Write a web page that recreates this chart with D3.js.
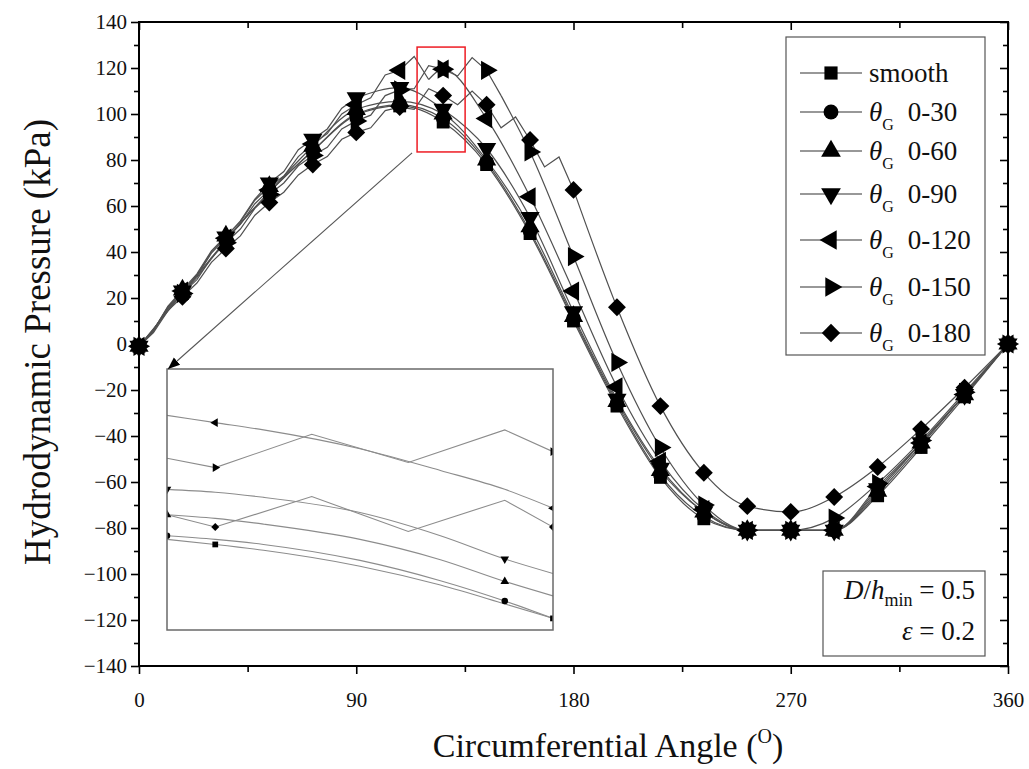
<!DOCTYPE html>
<html><head><meta charset="utf-8">
<script src="https://cdn.jsdelivr.net/npm/d3@7/dist/d3.min.js"></script>
<style>body{margin:0;background:#fff}</style>
</head><body><svg id="c" width="1029" height="769"></svg>
<script>
// ---------- DATA ----------
const markerAngles = [0,18,36,54,72,90,108,126,144,162,180,198,216,234,252,270,288,306,324,342,360];
const fineAngles = [0,6,12,18,24,30,36,42,48,54,60,66,72,78,84,90,96,102,108,114,120,126,132,138,144,150,156,162,168,174,180];
const yTickValues = [-140,-120,-100,-80,-60,-40,-20,0,20,40,60,80,100,120,140];
const yMinorValues = [-130,-110,-90,-70,-50,-30,-10,10,30,50,70,90,110,130];
const xTickValues = [0,90,180,270,360];
const xMinorValues = [45,135,225,315];

// marker values (kPa) at markerAngles
const smoothVals = [-1,22,45,66,84,99.5,103.5,96.5,78,48,10,-27,-58,-76,-81,-81,-81,-66,-45,-23,0];
const g30Vals    = [-1,22,45,66,84,100,104,98,79,49,11,-26,-57,-75,-81,-81,-81,-65,-44,-22,0];
const g60Vals    = [-1,23.5,47,68.5,86,102,105.5,100,80,51,12,-25,-55,-73,-81,-81,-81,-64,-43,-22,0];
const g90Vals    = [-1,23,46.5,70,89,107,111.5,102,85,55,14,-24,-54,-73,-81,-81,-81,-63,-43,-22,0];
const g120Vals   = [-1,23,46,67,87,104,119,119.5,98,64,23,-18.6,-51,-72,-81,-81,-81,-62,-43,-22,0];
const g150Vals   = [-1,22,44,65,82,97,110.5,119.5,119,83.5,38,-8,-45,-70,-81,-81,-75.7,-60.6,-42,-21,0];
const g180Vals   = [-1,20.5,41.5,61.5,78,92,103,108,104,88.7,67,16,-27,-56,-70.5,-73,-66.5,-53.5,-37,-19,0];

// groove-region values at fineAngles (0 .. groove end)
const g30Fine  = [-1,6.5,15,22,29,37];
const g60Fine  = [-1,6,16.5,23.5,30.5,40.5,47,53,62.5,68.5,73];
const g90Fine  = [-1,6,16,23,30,40,46.5,53.5,63,70,75,84.5,89,93.5,102.5,107];
const g120Fine = [-1,6,16,23,29.5,39.5,46,52,61,67,73,81.5,87,91.5,100,104,107,117,119,125,115];
const g150Fine = [-1,5.5,15.5,22,28,37.5,44,50,59,65,70,77.5,82,85.5,93.5,97,99.5,108,110.5,111,121,119.5,116.5,124.5,119,108];
const g180Fine = [-1,5,14.5,20.5,26.5,35.5,41.5,47,56,61.5,66,73.5,78,81.5,89,92,94,101.5,103,102,111,108,104,110,104,94,98.7,88.7,77,81.3,67];

const seriesNames = ["smooth","0-30","0-60","0-90","0-120","0-150","0-180"];
const grooveEnds  = [0,30,60,90,120,150,180];

// inset (zoom of the red box region)
const insetSmoothX = [123,126,129,135,140,144,147];
const insetZigX    = [123,126,132,138,144,147];
const insetSmooth = [100.5,99.8,99.0,96.8,94.2,91.6,89.6];
const inset30     = [101.0,100.5,99.8,97.6,94.8,92.0,89.6];
const inset60     = [103.9,103.4,102.6,100.5,97.7,94.7,92.7];
const inset90     = [107.4,107.0,106.3,104.2,101.0,97.8,95.8];
const inset120    = [117.6,116.6,115.6,113.0,110.0,107.4,104.8];
const inset150    = [111.7,110.4,115.0,111.1,115.6,112.6];
const inset180    = [103.9,102.2,106.4,101.6,105.9,102.2];
const insetMarkA  = [126,147]; // smooth, 0-120, 0-150, 0-180
const insetMarkB  = [123,144]; // 0-30, 0-60, 0-90

// ---------- DRAW ----------
const FONT = "'Liberation Serif','Times New Roman',serif";
const svg = d3.select('#c');
const x = d3.scaleLinear().domain([0,360]).range([139,1008]);
const y = d3.scaleLinear().domain([-140,140]).range([666,22]);

const LINE = '#505050';
const markerDefs = {
  square:  {type:d3.symbolSquare,   rot:0,   size:165},
  circle:  {type:d3.symbolCircle,   rot:0,   size:165},
  up:      {type:d3.symbolTriangle, rot:0,   size:160},
  down:    {type:d3.symbolTriangle, rot:180, size:160},
  left:    {type:d3.symbolTriangle, rot:-90, size:160},
  right:   {type:d3.symbolTriangle, rot:90,  size:160},
  diamond: {type:d3.symbolSquare,   rot:45,  size:160}
};
const markerKinds = ['square','circle','up','down','left','right','diamond'];
const valsList = [smoothVals,g30Vals,g60Vals,g90Vals,g120Vals,g150Vals,g180Vals];
const fineList = [null,g30Fine,g60Fine,g90Fine,g120Fine,g150Fine,g180Fine];

function drawMarker(g, kind, cx, cy, scale){
  const m = markerDefs[kind];
  g.append('path')
    .attr('d', d3.symbol().type(m.type).size(m.size*(scale||1))())
    .attr('transform', `translate(${cx},${cy}) rotate(${m.rot})`)
    .attr('fill','#000');
}

// lines
const gLines = svg.append('g');
const lineLin = d3.line().x(d=>x(d[0])).y(d=>y(d[1]));
const lineSm  = d3.line().x(d=>x(d[0])).y(d=>y(d[1])).curve(d3.curveMonotoneX);
valsList.forEach((vals,i)=>{
  const ge = grooveEnds[i];
  const fine = fineList[i];
  let rest;
  if (fine){
    const finePts = fine.map((v,k)=>[fineAngles[k],v]);
    gLines.append('path').attr('d', lineLin(finePts))
      .attr('fill','none').attr('stroke',LINE).attr('stroke-width',1.2);
    rest = [finePts[finePts.length-1]].concat(markerAngles.map((a,k)=>[a,vals[k]]).filter(p=>p[0]>ge));
  } else {
    rest = markerAngles.map((a,k)=>[a,vals[k]]);
  }
  gLines.append('path').attr('d', lineSm(rest))
    .attr('fill','none').attr('stroke',LINE).attr('stroke-width',1.2);
});
// markers
const gMarks = svg.append('g');
valsList.forEach((vals,i)=>{
  vals.forEach((v,k)=> drawMarker(gMarks, markerKinds[i], x(markerAngles[k]), y(v)));
});

// frame & axes
const axG = svg.append('g').attr('font-family',FONT);
function styleAxis(g){
  g.select('.domain').remove();
  g.selectAll('line').attr('stroke','#000').attr('stroke-width',1.6);
  g.selectAll('text').attr('font-family',FONT).attr('font-size',21).attr('fill','#111');
}
axG.append('g').attr('transform',`translate(${x(0)},0)`)
  .call(d3.axisLeft(y).tickValues(yTickValues).tickSize(8).tickPadding(4).tickFormat(d3.format('d'))).call(styleAxis);
axG.append('g').attr('transform',`translate(${x(0)},0)`)
  .call(d3.axisLeft(y).tickValues(yMinorValues).tickSize(5).tickFormat('')).call(styleAxis);
axG.append('g').attr('transform',`translate(${x(360)},0)`)
  .call(d3.axisLeft(y).tickValues(yTickValues).tickSize(8).tickFormat('')).call(styleAxis);
axG.append('g').attr('transform',`translate(${x(360)},0)`)
  .call(d3.axisLeft(y).tickValues(yMinorValues).tickSize(5).tickFormat('')).call(styleAxis);
axG.append('g').attr('transform',`translate(0,${y(-140)})`)
  .call(d3.axisBottom(x).tickValues(xTickValues).tickSize(8).tickPadding(18).tickFormat(d3.format('d'))).call(styleAxis);
axG.append('g').attr('transform',`translate(0,${y(-140)})`)
  .call(d3.axisBottom(x).tickValues(xMinorValues).tickSize(6).tickFormat('')).call(styleAxis);
axG.append('g').attr('transform',`translate(0,${y(140)})`)
  .call(d3.axisBottom(x).tickValues(xTickValues).tickSize(8).tickFormat('')).call(styleAxis);
axG.append('g').attr('transform',`translate(0,${y(140)})`)
  .call(d3.axisBottom(x).tickValues(xMinorValues).tickSize(6).tickFormat('')).call(styleAxis);
svg.append('rect').attr('x',x(0)).attr('y',y(140)).attr('width',x(360)-x(0)).attr('height',y(-140)-y(140))
  .attr('fill','none').attr('stroke','#000').attr('stroke-width',2);

// axis titles
const xt = svg.append('text').attr('x',608).attr('y',757).attr('text-anchor','middle')
  .attr('font-family',FONT).attr('font-size',34).attr('fill','#111');
xt.append('tspan').text('Circumferential Angle (');
xt.append('tspan').attr('dy',-14).attr('font-size',20).text('O');
xt.append('tspan').attr('dy',14).text(')');
svg.append('text').attr('transform','translate(50,342) rotate(-90)').attr('text-anchor','middle')
  .attr('font-family',FONT).attr('font-size',37).attr('fill','#111').text('Hydrodynamic Pressure (kPa)');

// red box
const red = {a0:115.2,a1:135.1,p0:83.5,p1:129.1};
svg.append('rect').attr('x',x(red.a0)).attr('y',y(red.p1)).attr('width',x(red.a1)-x(red.a0)).attr('height',y(red.p0)-y(red.p1))
  .attr('fill','none').attr('stroke','#ee1c24').attr('stroke-width',1.5);

// inset
const inset = {x0:167,x1:553,y0:369,y1:630};
const ix = d3.scaleLinear().domain([123,147]).range([inset.x0,inset.x1]);
const iy = d3.scaleLinear().domain([88,124]).range([inset.y1,inset.y0]);
svg.append('defs').append('clipPath').attr('id','ic').append('rect')
  .attr('x',inset.x0).attr('y',inset.y0).attr('width',inset.x1-inset.x0).attr('height',inset.y1-inset.y0);
svg.append('rect').attr('x',inset.x0).attr('y',inset.y0).attr('width',inset.x1-inset.x0).attr('height',inset.y1-inset.y0)
  .attr('fill','#fff');
const gi = svg.append('g').attr('clip-path','url(#ic)');
const iline = d3.line().x(d=>ix(d[0])).y(d=>iy(d[1]));
const insetSeries = [
  {xs:insetSmoothX, v:insetSmooth, kind:'square',  marks:insetMarkA},
  {xs:insetSmoothX, v:inset30,     kind:'circle',  marks:insetMarkB},
  {xs:insetSmoothX, v:inset60,     kind:'up',      marks:insetMarkB},
  {xs:insetSmoothX, v:inset90,     kind:'down',    marks:insetMarkB},
  {xs:insetSmoothX, v:inset120,    kind:'left',    marks:insetMarkA},
  {xs:insetZigX,    v:inset150,    kind:'right',   marks:insetMarkA},
  {xs:insetZigX,    v:inset180,    kind:'diamond', marks:insetMarkA}
];
insetSeries.forEach(s=>{
  const pts = s.xs.map((a,k)=>[a,s.v[k]]);
  gi.append('path').attr('d', s.xs===insetSmoothX ? iline.curve(d3.curveMonotoneX)(pts) : iline.curve(d3.curveLinear)(pts))
    .attr('fill','none').attr('stroke','#8c8c8c').attr('stroke-width',1.1);
});
insetSeries.forEach(s=>{
  const pts = s.xs.map((a,k)=>[a,s.v[k]]);
  s.marks.forEach(a=>{
    const p = pts.find(q=>q[0]===a);
    if (p) drawMarker(gi, s.kind, ix(p[0]), iy(p[1]), 0.2);
  });
});
svg.append('rect').attr('x',inset.x0).attr('y',inset.y0).attr('width',inset.x1-inset.x0).attr('height',inset.y1-inset.y0)
  .attr('fill','none').attr('stroke','#6a6a6a').attr('stroke-width',1.5);

// connector arrow
svg.select('defs').append('marker').attr('id','arr').attr('viewBox','0 0 10 10').attr('refX',10).attr('refY',5)
  .attr('markerWidth',12).attr('markerHeight',12).attr('markerUnits','userSpaceOnUse').attr('orient','auto')
  .append('path').attr('d','M0,1 L10,5 L0,9 Z').attr('fill','#000');
svg.append('line').attr('x1',x(red.a0)-5).attr('y1',y(red.p0)+1).attr('x2',inset.x0+1).attr('y2',inset.y0)
  .attr('stroke','#555').attr('stroke-width',1.1).attr('marker-end','url(#arr)');

// legend
const leg = {x0:786,y0:37,x1:985,y1:355};
svg.append('rect').attr('x',leg.x0).attr('y',leg.y0).attr('width',leg.x1-leg.x0).attr('height',leg.y1-leg.y0)
  .attr('fill','#fff').attr('stroke','#555').attr('stroke-width',1.2);
const legRows = [73,112,151,194,240,287,333];
seriesNames.forEach((n,i)=>{
  const cy = legRows[i];
  svg.append('line').attr('x1',800).attr('x2',862).attr('y1',cy).attr('y2',cy).attr('stroke','#333').attr('stroke-width',1.2);
  drawMarker(svg, markerKinds[i], 831, cy, 1.05);
  const t = svg.append('text').attr('x',869).attr('y',cy+9).attr('font-family',FONT).attr('font-size',27).attr('fill','#111');
  if (i===0) t.text(n);
  else {
    t.append('tspan').attr('font-style','italic').text('θ');
    t.append('tspan').attr('dy',9).attr('font-size',16).text('G');
    t.append('tspan').attr('dy',-9).attr('dx',14).text(n);
  }
});

// annotation
svg.append('rect').attr('x',823).attr('y',571).attr('width',162).attr('height',85)
  .attr('fill','#fff').attr('stroke','#555').attr('stroke-width',1.2);
const a1 = svg.append('text').attr('x',975).attr('y',599).attr('text-anchor','end').attr('font-family',FONT).attr('font-size',27).attr('fill','#111');
a1.append('tspan').attr('font-style','italic').text('D');
a1.append('tspan').text('/');
a1.append('tspan').attr('font-style','italic').text('h');
a1.append('tspan').attr('dy',7).attr('font-size',18).text('min');
a1.append('tspan').attr('dy',-7).text(' = 0.5');
const a2 = svg.append('text').attr('x',975).attr('y',640).attr('text-anchor','end').attr('font-family',FONT).attr('font-size',27).attr('fill','#111');
a2.append('tspan').attr('font-style','italic').text('ε');
a2.append('tspan').text(' = 0.2');
</script></body></html>
